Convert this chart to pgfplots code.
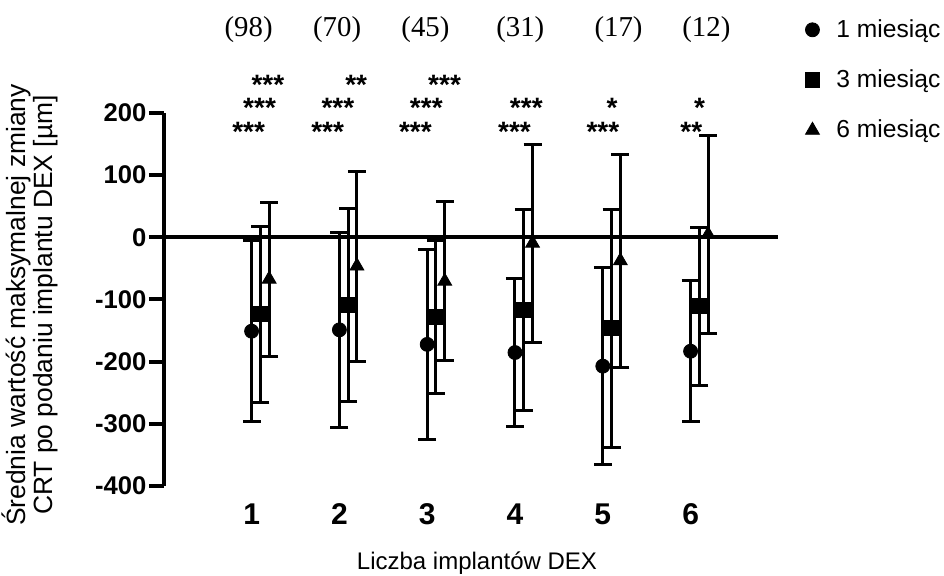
\documentclass[border=0pt]{standalone}
\usepackage{pgfplots}
\pgfplotsset{compat=1.18}
\usepackage{fontspec}
\setmainfont{Liberation Sans}
\newfontfamily\seriffont{Liberation Serif}

\pgfplotstableread{
x y e
1 -151.0 145.5
2 -148.8 156.8
3 -172.2 152.9
4 -185.3 119.3
5 -207.2 158.9
6 -183.2 113.5
}\monthone
\pgfplotstableread{
x y e
1.1 -123.6 141.8
2.1 -108.9 155.5
3.1 -128.2 123.8
4.1 -116.7 162.2
5.1 -146.2 191.7
6.1 -110.8 126.8
}\monththree
\pgfplotstableread{
x y e
1.2 -67.3 123.6
2.2 -46.2 152.8
3.2 -70.6 127.9
4.2 -9.5 159.5
5.2 -37.8 171.3
6.2 4.5 160.0
}\monthsix

\pgfplotsset{
  legimg/.style={legend image code/.code={\path[draw=none,fill=none] (0pt,-1pt) rectangle (18pt,1pt); \draw[##1, only marks] plot coordinates {(8pt,0pt)};}},
}

\begin{document}
\begin{tikzpicture}
\useasboundingbox (-81.9pt,-45pt) rectangle (390.1pt,243pt);
\begin{axis}[
  at={(0,0)}, anchor=south west,
  scale only axis, width=307.3pt, height=186.5pt,
  xmin=0, xmax=7, ymin=-400, ymax=200,
  axis y line*=left, axis x line*=bottom,
  x axis line style={draw=none},
  y axis line style={line width=2pt},
  xtick={1,2,3,4,5,6}, xticklabels={1,2,3,4,5,6},
  xtick style={draw=none},
  xticklabel style={font=\bfseries\fontsize{15}{18}\selectfont, text height=11pt, text depth=0pt, yshift=2.7pt},
  ytick={-400,-300,-200,-100,0,100,200},
  yticklabels={-400,-300,-200,-100,0,100,200},
  ytick style={line width=2pt, black},
  major tick length=7.5pt, tick align=outside,
  yticklabel style={font=\bfseries\fontsize{12.8}{15}\selectfont, inner xsep=1pt},
  clip=false,
  xlabel={Liczba implantów DEX},
  xlabel style={at={(axis description cs:0.5096,-0.206)}, anchor=center, font=\fontsize{12}{14}\selectfont},
  ylabel={Średnia wartość maksymalnej zmiany\\CRT po podaniu implantu DEX [µm]},
  ylabel style={at={(axis description cs:-0.2177,0.485)}, anchor=center, align=center, font=\fontsize{13.2}{12}\selectfont},
  legend style={at={(axis description cs:1.019,1.2735)}, anchor=north west, draw=none, fill=none,
    font=\fontsize{12.3}{14}\selectfont, row sep=10.7pt},
  legend cell align=left,
  error bars/y dir=both, error bars/y explicit,
  error bars/error bar style={line width=1.5pt, black},
  error bars/error mark options={rotate=90, line width=1.5pt, mark size=4.5pt, black},
]
\addplot[forget plot, line width=2pt, black] coordinates {(0,0) (7,0)};
\addplot[only marks, mark=*, mark size=3.5pt, black, legimg] table[x=x, y=y, y error=e] {\monthone};
\addlegendentry{1 miesiąc}
\addplot[only marks, mark=square*, mark size=3.7pt, black, legimg] table[x=x, y=y, y error=e] {\monththree};
\addlegendentry{3 miesiąc}
\addplot[only marks, mark=triangle*, mark size=4pt, black, legimg] table[x=x, y=y, y error=e] {\monthsix};
\addlegendentry{6 miesiąc}

% group sizes
\begin{scope}[every node/.style={anchor=base, font=\seriffont\fontsize{14.4}{16}\selectfont}]
\node at (axis cs:0.966,322.7) {(98)};
\node at (axis cs:1.974,322.7) {(70)};
\node at (axis cs:2.98,322.7) {(45)};
\node at (axis cs:4.06,322.7) {(31)};
\node at (axis cs:5.18,322.7) {(17)};
\node at (axis cs:6.18,322.7) {(12)};
\end{scope}
% significance
\begin{scope}[every node/.style={anchor=base, inner sep=0pt, text depth=0pt, font=\bfseries\fontsize{14}{16}\selectfont}]
\node at (axis cs:1.186,230.5) {***};
\node at (axis cs:2.192,230.5) {**};
\node at (axis cs:3.198,230.5) {***};
\node at (axis cs:1.091,192.2) {***};
\node at (axis cs:1.983,192.2) {***};
\node at (axis cs:2.990,192.2) {***};
\node at (axis cs:4.129,192.2) {***};
\node at (axis cs:5.106,192.2) {*};
\node at (axis cs:6.102,192.2) {*};
\node at (axis cs:0.966,154.7) {***};
\node at (axis cs:1.866,154.7) {***};
\node at (axis cs:2.866,154.7) {***};
\node at (axis cs:3.995,154.7) {***};
\node at (axis cs:5.001,154.7) {***};
\node at (axis cs:6.008,154.7) {**};
\end{scope}
\end{axis}
\end{tikzpicture}
\end{document}
